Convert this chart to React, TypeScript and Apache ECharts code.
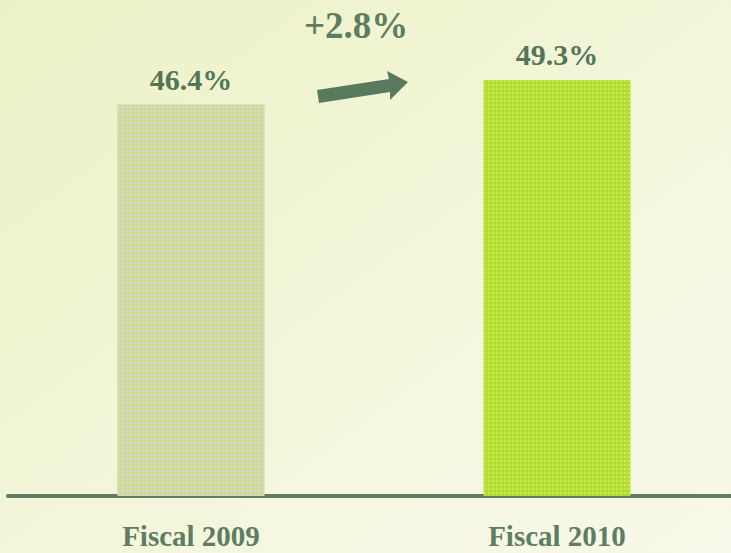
import React, { useEffect, useRef } from "react";
import * as echarts from "echarts";

const categories = ["Fiscal 2009", "Fiscal 2010"];
const values = [46.4, 49.3];
const valueLabels = ["46.4%", "49.3%"];
const changeLabel = "+2.8%";
const barColors = ["#d3d9b4", "#b2dd2c"];
const dotColors = ["rgba(190,220,60,0.55)", "rgba(220,245,140,0.6)"];

export default function App() {
  const ref = useRef<HTMLDivElement>(null);
  useEffect(() => {
    if (!ref.current) return;
    const chart = echarts.init(ref.current, null, { renderer: "svg" });
    const serif = "'Liberation Serif', 'DejaVu Serif', serif";
    chart.setOption({
      animation: false,
      backgroundColor: {
        type: "linear",
        x: 0,
        y: 0,
        x2: 1,
        y2: 1,
        colorStops: [
          { offset: 0, color: "#ecf2c6" },
          { offset: 0.6, color: "#f4f6dc" },
          { offset: 1, color: "#f8f8ea" },
        ],
      },
      grid: {
        left: 8,
        width: 732,
        top: 74,
        bottom: 57,
        containLabel: false,
        outerBoundsMode: "none",
      },
      xAxis: {
        type: "category",
        data: categories,
        axisLine: { lineStyle: { color: "#5e7d62", width: 4 } },
        axisTick: { show: false },
        axisLabel: {
          color: "#5e7d62",
          fontFamily: serif,
          fontWeight: "bold",
          fontSize: 29,
          margin: 25,
          lineHeight: 29,
        },
      },
      yAxis: {
        type: "value",
        min: 0,
        max: 50,
        show: false,
        splitLine: { show: false },
      },
      series: [
        {
          type: "bar",
          barWidth: 147,
          data: values.map((v, i) => ({
            value: v,
            itemStyle: {
              color: barColors[i],
              decal: {
                symbol: "circle",
                symbolSize: 1,
                dashArrayX: [1.5, 1.5],
                dashArrayY: [1.5, 1.5],
                color: dotColors[i],
              },
            },
            label: { formatter: valueLabels[i] },
          })),
          label: {
            show: true,
            position: "top",
            distance: 10,
            color: "#557558",
            fontFamily: serif,
            fontWeight: "bold",
            fontSize: 30,
          },
        },
      ],
      graphic: [
        {
          type: "text",
          left: 304,
          top: 7,
          style: {
            text: changeLabel,
            fill: "#5e7d62",
            font: "bold 37px " + serif,
          },
        },
        {
          type: "polygon",
          shape: {
            points: [
              [317, 90],
              [389, 79],
              [387, 71],
              [408, 82],
              [390, 100],
              [390, 92],
              [319, 103],
            ],
          },
          style: { fill: "#5a7a5e" },
        },
      ],
    });
    return () => chart.dispose();
  }, []);
  return (
    <div
      ref={ref}
      style={{ position: "fixed", left: 0, top: 0, width: 731, height: 553 }}
    />
  );
}
